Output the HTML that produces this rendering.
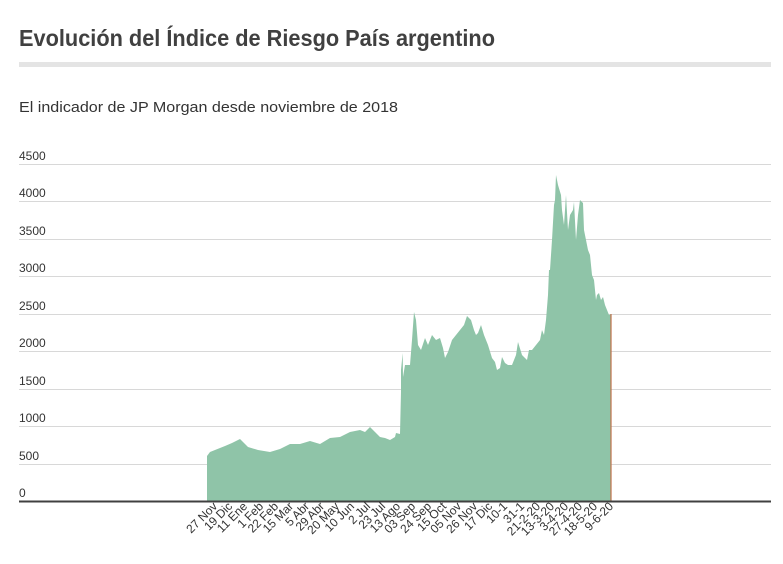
<!DOCTYPE html>
<html><head><meta charset="utf-8"><style>
html,body{margin:0;padding:0;background:#fff;}
svg{display:block;font-family:"Liberation Sans",sans-serif;}
</style></head><body>
<svg width="783" height="564" viewBox="0 0 783 564" xmlns="http://www.w3.org/2000/svg">
<text x="19" y="46" font-size="23" font-weight="bold" fill="#404040" textLength="476" lengthAdjust="spacingAndGlyphs">Evolución del Índice de Riesgo País argentino</text>
<rect x="19" y="62" width="752" height="5" fill="#e4e4e4"/>
<text x="19" y="112" font-size="15" fill="#333" textLength="379" lengthAdjust="spacingAndGlyphs">El indicador de JP Morgan desde noviembre de 2018</text>
<g stroke="#d8d8d8" stroke-width="1">
<line x1="19" x2="771" y1="164.5" y2="164.5"/>
<line x1="19" x2="771" y1="201.5" y2="201.5"/>
<line x1="19" x2="771" y1="239.5" y2="239.5"/>
<line x1="19" x2="771" y1="276.5" y2="276.5"/>
<line x1="19" x2="771" y1="314.5" y2="314.5"/>
<line x1="19" x2="771" y1="351.5" y2="351.5"/>
<line x1="19" x2="771" y1="389.5" y2="389.5"/>
<line x1="19" x2="771" y1="426.5" y2="426.5"/>
<line x1="19" x2="771" y1="464.5" y2="464.5"/>
</g>
<g font-size="12" fill="#333">
<text x="19" y="160">4500</text>
<text x="19" y="197">4000</text>
<text x="19" y="235">3500</text>
<text x="19" y="272">3000</text>
<text x="19" y="310">2500</text>
<text x="19" y="347">2000</text>
<text x="19" y="385">1500</text>
<text x="19" y="422">1000</text>
<text x="19" y="460">500</text>
<text x="19" y="497">0</text>
</g>
<polygon fill="#8fc4a8" points="207,501 207,456 210,452 220,448 225,446 232,443 240,439 248,447 258,450 270,452 280,449 290,444 300,444 310,441 320,444 330,438 340,437 350,432 355,431 360,430 365,432 370,427 375,432 380,437 385,438 390,440 395,437 396,433 400,434 401,392 401,370 402.7,353 403,377 405,365 410,365 412,340 414,312 416,320 418,345 421,350 425,338 428,345 432,335 436,340 440,338 443,348 445,358 448,352 452,340 456,335 460,330 464,325 467,316 471,320 474,330 476,335 478,333 481,325 484,335 488,345 492,358 495,362 497,370 500,368 502,357 505,363 508,365 512,365 516,355 518,342 522,355 525,358 527,360 529,350 532,350 536,345 540,340 542,330 544,335 546,320 548,295 549,270 550,270 552,240 554,205 555,200 556,175 558,185 561,195 562,210 564,225 566,195 568,230 570,215 573,210 574,202 576,240 578,215 580,200 583,203 584,230 586,240 588,250 590,255 592,275 594,280 596,300 597,295 599,293 601,300 603,297 605,305 607,310 609,315 611,314 611,501"/>
<line x1="611" y1="314" x2="611" y2="501" stroke="#c0704a" stroke-width="1.2"/>
<line x1="19" y1="501.5" x2="771" y2="501.5" stroke="#404040" stroke-width="2"/>
<g font-size="12" fill="#333" text-anchor="end">
<text transform="translate(218,507) rotate(-45)">27 Nov</text>
<text transform="translate(233,507) rotate(-45)">19 Dic</text>
<text transform="translate(248,507) rotate(-45)">11 Ene</text>
<text transform="translate(264,507) rotate(-45)">1 Feb</text>
<text transform="translate(279,507) rotate(-45)">22 Feb</text>
<text transform="translate(294,507) rotate(-45)">15 Mar</text>
<text transform="translate(310,507) rotate(-45)">5 Abr</text>
<text transform="translate(325,507) rotate(-45)">29 Abr</text>
<text transform="translate(340,507) rotate(-45)">20 May</text>
<text transform="translate(355,507) rotate(-45)">10 Jun</text>
<text transform="translate(371,507) rotate(-45)">2 Jul</text>
<text transform="translate(386,507) rotate(-45)">23 Jul</text>
<text transform="translate(401,507) rotate(-45)">13 Ago</text>
<text transform="translate(416,507) rotate(-45)">03 Sep</text>
<text transform="translate(432,507) rotate(-45)">24 Sep</text>
<text transform="translate(447,507) rotate(-45)">15 Oct</text>
<text transform="translate(462,507) rotate(-45)">05 Nov</text>
<text transform="translate(478,507) rotate(-45)">26 Nov</text>
<text transform="translate(493,507) rotate(-45)">17 Dic</text>
<text transform="translate(508,507) rotate(-45)">10-1</text>
<text transform="translate(525,507) rotate(-45)">31-1</text>
<text transform="translate(541,507) rotate(-45)">21-2-20</text>
<text transform="translate(555,507) rotate(-45)">13-3-20</text>
<text transform="translate(569,507) rotate(-45)">3-4-20</text>
<text transform="translate(583,507) rotate(-45)">27-4-20</text>
<text transform="translate(598,507) rotate(-45)">18-5-20</text>
<text transform="translate(614,507) rotate(-45)">9-6-20</text>
</g>
</svg>
</body></html>
